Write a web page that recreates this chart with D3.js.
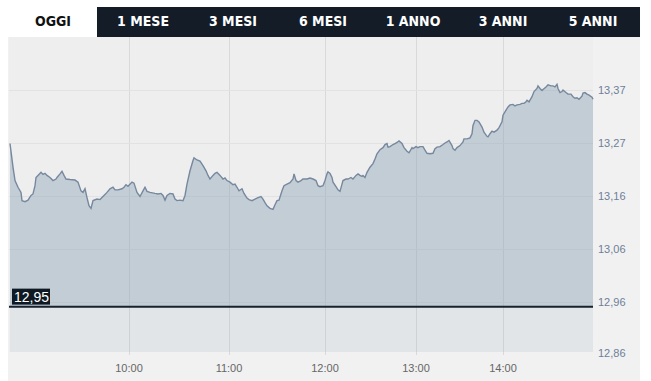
<!DOCTYPE html>
<html lang="it">
<head>
<meta charset="utf-8">
<title>OGGI</title>
<script src="https://d3js.org/d3.v7.min.js"></script>
<style>
  body { margin: 0; background: #fff; }
  svg { display: block; }
</style>
</head>
<body>
<script>
// periodi del selettore
var tabs = ['OGGI', '1 MESE', '3 MESI', '6 MESI', '1 ANNO', '3 ANNI', '5 ANNI'];

// progressivo scambi (asse x per indice) e prezzo
var idx = [1, 4, 6, 9, 12, 13, 16, 19, 22, 24, 26, 27, 29, 32, 34, 36, 38, 41, 44, 47, 48, 51, 53, 55, 57, 61, 66, 69, 72, 74, 76, 78, 80, 82, 84, 88, 91, 94, 98, 101, 104, 106, 109, 113, 115, 117, 119, 123, 125, 128, 131,
  134, 136, 138, 141, 146, 149, 152, 154, 156, 158, 161, 164, 166, 168, 171, 174, 176, 178, 181, 184, 185, 188, 191, 194, 197, 199, 201, 204, 206, 208, 211, 214, 216, 218, 221, 224, 226, 228, 230, 233, 235, 238, 240, 243, 246, 249, 252, 254, 256, 258, 261, 264, 266, 268, 270, 273, 275, 278, 281,
  284, 285, 287, 289, 292, 294, 298, 301, 304, 307, 309, 311, 314, 316, 318, 319, 321, 323, 324, 327, 329, 331, 333, 334, 337, 339, 342, 344, 347, 349, 351, 353, 354, 356, 358, 361, 364, 366, 368, 371, 374, 376, 378, 379, 381, 384, 386, 388, 390, 393, 395, 398, 400, 403, 404, 407, 409, 411,
  414, 416, 418, 421, 424, 426, 428, 431, 434, 436, 438, 440, 443, 444, 446, 448, 451, 454, 455, 458, 461, 463, 464, 466, 468, 470, 473, 475, 478, 479, 481, 483, 485, 488, 490, 493, 494, 497, 499, 501, 504, 506, 508, 511, 513, 515, 517, 518, 520, 523, 525, 528, 529, 531, 533, 534, 537, 539, 542, 544, 546, 548, 549, 551, 553, 554, 557, 559, 562, 564, 566, 568, 570, 573, 574, 576, 578, 580, 583, 584];
var prezzo = [13.267, 13.221, 13.195, 13.182, 13.172, 13.156, 13.154, 13.157, 13.166, 13.169, 13.185, 13.201, 13.205, 13.211, 13.207, 13.209, 13.205, 13.201, 13.195, 13.198, 13.201, 13.208, 13.213, 13.205, 13.198, 13.197, 13.196, 13.192, 13.175, 13.172, 13.179, 13.162, 13.146, 13.141, 13.156, 13.159, 13.158, 13.164, 13.172, 13.179, 13.182, 13.177, 13.177, 13.179, 13.182, 13.187, 13.184, 13.192, 13.190, 13.172, 13.164,
  13.175, 13.182, 13.174, 13.172, 13.170, 13.169, 13.170, 13.166, 13.157, 13.166, 13.170, 13.169, 13.159, 13.156, 13.157, 13.156, 13.166, 13.188, 13.214, 13.234, 13.239, 13.235, 13.233, 13.224, 13.214, 13.205, 13.198, 13.205, 13.209, 13.211, 13.205, 13.198, 13.200, 13.195, 13.192, 13.187, 13.188, 13.182, 13.175, 13.179, 13.170, 13.161, 13.158, 13.156, 13.159, 13.162, 13.164, 13.159, 13.152, 13.146, 13.141, 13.139, 13.148, 13.156, 13.157, 13.175, 13.185, 13.188, 13.191,
  13.198, 13.208, 13.195, 13.192, 13.195, 13.198, 13.198, 13.200, 13.198, 13.195, 13.185, 13.183, 13.185, 13.195, 13.208, 13.212, 13.209, 13.201, 13.192, 13.183, 13.177, 13.174, 13.188, 13.195, 13.198, 13.198, 13.201, 13.198, 13.205, 13.208, 13.205, 13.203, 13.205, 13.201, 13.211, 13.221, 13.228, 13.237, 13.247, 13.255, 13.259, 13.265, 13.267, 13.260, 13.261, 13.265, 13.267, 13.269, 13.272, 13.267, 13.259, 13.252, 13.249, 13.259, 13.257, 13.261, 13.259, 13.261,
  13.261, 13.254, 13.248, 13.247, 13.248, 13.257, 13.260, 13.261, 13.265, 13.268, 13.270, 13.273, 13.263, 13.257, 13.254, 13.259, 13.263, 13.270, 13.276, 13.276, 13.278, 13.286, 13.302, 13.312, 13.312, 13.309, 13.299, 13.289, 13.281, 13.280, 13.286, 13.291, 13.289, 13.293, 13.298, 13.309, 13.322, 13.332, 13.338, 13.342, 13.343, 13.340, 13.342, 13.343, 13.345, 13.345, 13.348, 13.351, 13.348, 13.358, 13.368, 13.374, 13.379, 13.374, 13.370, 13.372, 13.377, 13.381, 13.379, 13.379, 13.377, 13.382, 13.374, 13.366, 13.368, 13.371, 13.366, 13.363, 13.363, 13.358, 13.355, 13.356, 13.353, 13.359, 13.365, 13.366, 13.363, 13.361, 13.357, 13.353];

// indice del primo scambio di ogni ora
var oreIdx = [120, 220, 316, 407, 494];
var oreLabel = ['10:00', '11:00', '12:00', '13:00', '14:00'];

var yTicks = [12.856, 12.959, 13.062, 13.165, 13.268, 13.371];
var yTickLabel = ['12,86', '12,96', '13,06', '13,16', '13,27', '13,37'];

var chiusuraPrec = 12.95;
var chiusuraLabel = '12,95';

var W = 651, H = 381;
var plot = { left: 9, right: 593, top: 37, bottom: 352 };

var svg = d3.select('body').append('svg').attr('width', W).attr('height', H);

// --- selettore periodi
svg.append('rect').attr('x', 97).attr('y', 7).attr('width', 543).attr('height', 30).style('fill', '#141c28');
svg.selectAll('text.tab')
    .data(tabs)
    .enter()
    .append('text')
    .attr('class', 'tab')
    .attr('x', function (d, i) { return 53 + i * 90; })
    .attr('y', 26)
    .attr('text-anchor', 'middle')
    .style('font-family', '"DejaVu Sans Condensed", "DejaVu Sans", sans-serif')
    .style('font-stretch', 'condensed')
    .style('font-weight', 'bold')
    .style('font-size', '14px')
    .style('fill', function (d, i) { return i === 0 ? '#111' : '#fff'; })
    .text(function (d) { return d; });

// --- pannello
svg.append('rect').attr('x', 8).attr('y', 37).attr('width', 632).attr('height', H - 37).style('fill', '#f1f1f1');
svg.append('rect').attr('x', plot.left).attr('y', plot.top)
    .attr('width', plot.right - plot.left).attr('height', plot.bottom - plot.top).style('fill', '#eeeeee');

var x = d3.scaleLinear().domain([0, 584]).range([plot.left, plot.right]);
var y = d3.scaleLinear().domain([12.856, 13.371]).range([355, 90]);

var data = idx.map(function (d, i) { return { i: d, v: prezzo[i] }; });

// griglia
svg.append('g').selectAll('line')
    .data(oreIdx)
    .enter()
    .append('line')
    .attr('x1', function (d) { return Math.round(x(d)) + 0.5; })
    .attr('x2', function (d) { return Math.round(x(d)) + 0.5; })
    .attr('y1', plot.top).attr('y2', plot.bottom + 3)
    .style('stroke', '#d9d9d9');
svg.append('g').selectAll('line')
    .data(yTicks.slice(1))
    .enter()
    .append('line')
    .attr('x1', plot.left).attr('x2', plot.right)
    .attr('y1', function (d) { return Math.round(y(d)) + 0.5; })
    .attr('y2', function (d) { return Math.round(y(d)) + 0.5; })
    .style('stroke', '#e2e2e2');

// area
var area = d3.area()
    .x(function (d) { return x(d.i); })
    .y0(y(chiusuraPrec))
    .y1(function (d) { return y(d.v); });
svg.append('path').datum(data).attr('d', area).style('fill', '#8fa3b8').style('fill-opacity', 0.45);
svg.append('rect')
    .attr('x', x(data[0].i)).attr('y', y(chiusuraPrec))
    .attr('width', x(data[data.length - 1].i) - x(data[0].i))
    .attr('height', plot.bottom - y(chiusuraPrec))
    .style('fill', '#8fa3b8').style('fill-opacity', 0.12);

var line = d3.line()
    .x(function (d) { return x(d.i); })
    .y(function (d) { return y(d.v); });
svg.append('path').datum(data).attr('d', line)
    .style('fill', 'none').style('stroke', '#76889e').style('stroke-width', 1.4);

// chiusura precedente
svg.append('line')
    .attr('x1', plot.left).attr('x2', plot.right)
    .attr('y1', y(chiusuraPrec)).attr('y2', y(chiusuraPrec))
    .style('stroke', '#17212c').style('stroke-width', 2);
svg.append('rect').attr('x', 12).attr('y', y(chiusuraPrec) - 18).attr('width', 38).attr('height', 16).style('fill', '#0f1923');
svg.append('text').attr('x', 14).attr('y', y(chiusuraPrec) - 5)
    .style('font-family', '"Liberation Sans", Arial, sans-serif').style('font-size', '14px')
    .style('fill', '#fff').text(chiusuraLabel);

// etichette assi
svg.append('g').selectAll('text')
    .data(yTicks)
    .enter()
    .append('text')
    .attr('x', 598)
    .attr('y', function (d) { return Math.min(y(d), 353) + 4; })
    .style('font-family', '"Liberation Sans", Arial, sans-serif').style('font-size', '11px')
    .style('fill', '#6d7f99')
    .text(function (d, i) { return yTickLabel[i]; });

svg.append('g').selectAll('text')
    .data(oreIdx)
    .enter()
    .append('text')
    .attr('x', function (d) { return x(d); })
    .attr('y', 372)
    .attr('text-anchor', 'middle')
    .style('font-family', '"Liberation Sans", Arial, sans-serif').style('font-size', '11px')
    .style('fill', '#666')
    .text(function (d, i) { return oreLabel[i]; });
</script>
</body>
</html>
